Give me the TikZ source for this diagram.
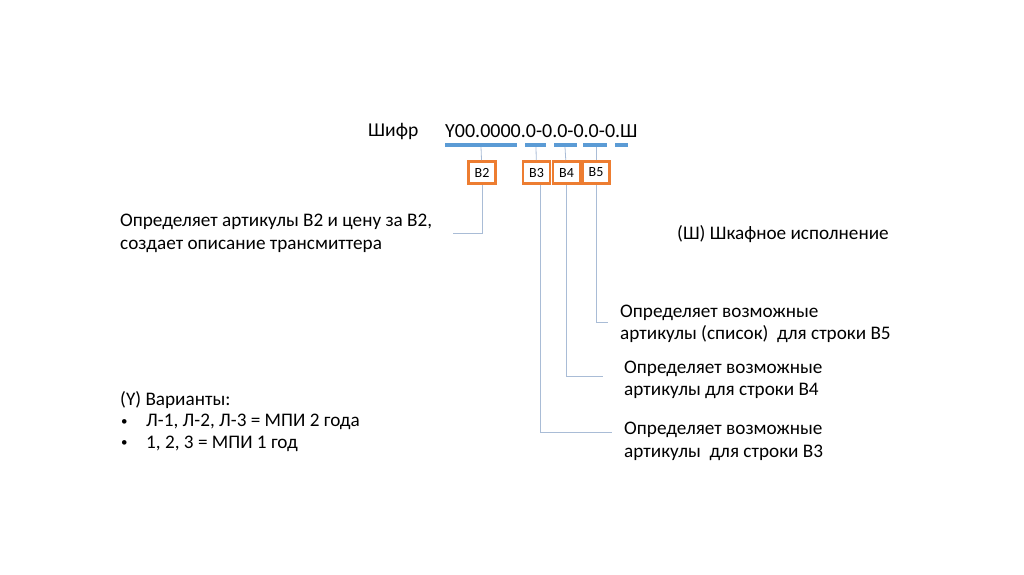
\documentclass[tikz,border=0pt]{standalone}
\usepackage{fontspec}
\setmainfont{Carlito}
\usetikzlibrary{positioning}
\definecolor{barblue}{HTML}{5B9BD5}
\definecolor{boxorange}{HTML}{ED7D31}
\definecolor{linkblue}{HTML}{A9BCD6}

\begin{document}
\begin{tikzpicture}[x=1pt,y=-1pt,font=\fontsize{19.2}{22.5}\selectfont]
    \tikzstyle{desc}=[anchor=west,align=left,inner sep=0pt]
    \tikzstyle{field}=[draw=boxorange,line width=2.8pt,minimum width=27pt,minimum height=22pt,inner sep=0pt,font=\fontsize{14}{15}\selectfont]
    \tikzstyle{bar}=[draw=barblue,line width=4pt]
    \tikzstyle{link}=[draw=linkblue,line width=0.8pt]

    \useasboundingbox (0,0) rectangle (1024,574);

    % Draw the code line
    \node[desc,font=\fontsize{19.6}{23}\selectfont] (cipher) at (368,131) {Шифр};
    \node[desc,font=\fontsize{20}{23}\selectfont] (code) at (445,131) {Y00.0000.0-0.0-0.0-0.Ш};

    % Draw the bars under the code
    \foreach \a / \b in {445/517,525/546,554/577,583/607,615/628}
        \draw[bar] (\a,145) -- (\b,145);
    \foreach \name / \x in {2/481,3/536,4/565,5/596}
        \coordinate (S-\name) at (\x,147);

    % Draw the field boxes
    \node[field] (B2) at (482,172.5) {B2};
    \foreach \name / \x in {3/536.5,4/566.5,5/596}
        \node[field] (B\name) at (\x,172.5) {B\name};

    % Connect the bars with the boxes
    \foreach \name in {2,...,5}
        \path[link] (S-\name) edge (B\name);

    % Descriptions
    \node[desc] (d2) at (120,233.5) {Определяет артикулы В2 и цену за В2,\\создает описание трансмиттера};
    \node[desc] (dsh) at (677,234) {(Ш) Шкафное исполнение};
    \node[desc] (d5) at (620,324) {Определяет возможные\\артикулы (список)\ \ для строки В5};
    \node[desc] (d4) at (624,380) {Определяет возможные\\артикулы для строки В4};
    \node[desc] (d3) at (624,441.5) {Определяет возможные\\артикулы\ \ для строки В3};

    % Variants
    \node[desc,font=\fontsize{19.2}{21.5}\selectfont] (var) at (120,421.5) {(Y) Варианты:\\
        \makebox[26pt][l]{\hspace{1pt}\raisebox{1.5pt}{\fontsize{13}{13}\selectfont•}}Л-1, Л-2, Л-3 = МПИ 2 года\\
        \makebox[26pt][l]{\hspace{1pt}\raisebox{1.5pt}{\fontsize{13}{13}\selectfont•}}1, 2, 3 = МПИ 1 год};

    % Connect the boxes with the descriptions
    \coordinate (E2) at (453,233);
    \coordinate (E5) at (608,322);
    \coordinate (E4) at (603,376);
    \coordinate (E3) at (612,432);
    \draw[link] (B2.south) |- (E2);
    \draw[link] (B5.south) |- (E5);
    \draw[link] (B4.south) |- (E4);
    \draw[link] ([xshift=3.5pt]B3.south) |- (E3);

\end{tikzpicture}
\end{document}
